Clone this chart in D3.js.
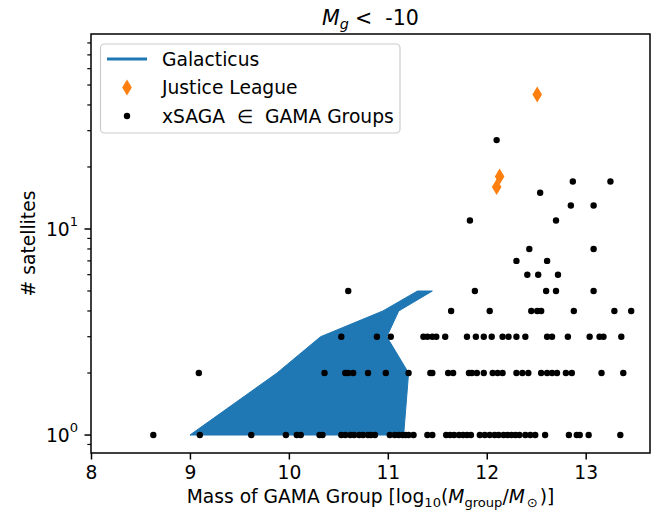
<!DOCTYPE html>
<html>
<head>
<meta charset="utf-8">
<script src="https://cdn.jsdelivr.net/npm/d3@7"></script>
<style>
    body { margin: 0; background: #fff; }
    svg { font-family: "DejaVu Sans", sans-serif; }
</style>
</head>
<body>
<svg id="chart" width="660" height="510"></svg>
<script>
// Galacticus band (fill_betweenx): for each satellite count, min/max group mass
const galN = [1, 2, 3, 4, 5]
const galLo = [9.0, 9.88, 10.32, 10.95, 11.3]
const galHi = [11.16, 11.21, 10.99, 11.11, 11.45]

// Justice League
const jlMass = [12.51, 12.13, 12.10]
const jlN = [45, 18, 16]

// xSAGA in GAMA groups, grouped by number of satellites
const xsagaN = [1, 2, 3, 4, 5, 6, 7, 8, 11, 13, 15, 17, 27]
const xsagaMass = [
    [8.63, 9.10, 9.62, 9.97, 10.08, 10.12, 10.31, 10.34, 10.53, 10.57, 10.62, 10.66, 10.71, 10.75,
     10.80, 10.83, 10.87, 11.02, 11.07, 11.11, 11.15, 11.18, 11.21, 11.26, 11.40, 11.45, 11.59,
     11.63, 11.67, 11.72, 11.76, 11.80, 11.84, 11.93, 11.98, 12.03, 12.08, 12.12, 12.17, 12.21,
     12.25, 12.29, 12.33, 12.39, 12.44, 12.49, 12.59, 12.83, 12.91, 12.94, 13.03, 13.35],
    [9.09, 10.36, 10.57, 10.60, 10.65, 10.80, 10.98, 11.21, 11.43, 11.45, 11.61, 11.66, 11.82,
     11.85, 11.90, 11.97, 12.06, 12.11, 12.16, 12.30, 12.36, 12.42, 12.55, 12.61, 12.66, 12.71,
     12.80, 12.86, 13.16, 13.38],
    [10.53, 10.89, 11.03, 11.36, 11.40, 11.45, 11.49, 11.58, 11.80, 11.89, 11.97, 12.05, 12.16,
     12.22, 12.30, 12.39, 12.61, 12.66, 12.82, 13.04, 13.14, 13.18, 13.36],
    [11.64, 12.03, 12.45, 12.51, 12.55, 12.88, 13.29, 13.46],
    [10.60, 11.88, 12.60, 12.70, 13.08],
    [12.41, 12.52, 12.72],
    [12.30, 12.61],
    [12.43, 13.08],
    [11.83, 12.70],
    [12.85, 13.08],
    [12.54],
    [12.87, 13.25],
    [12.10]
]

const xTicks = [8, 9, 10, 11, 12, 13]
const yMajor = [1, 10]
const yMinor = [0.9, 2, 3, 4, 5, 6, 7, 8, 9, 20, 30, 40, 50, 60, 70, 80]

const blue = "#1f77b4"
const orange = "#ff7f0e"
const fs = 18.7

const svg = d3.select("#chart")
const pLeft = 91, pRight = 650, pTop = 34, pBottom = 453

const x = d3.scaleLinear().domain([8, 13.65]).range([pLeft, pRight])
const y = d3.scaleLog().domain([0.818, 88.4]).range([pBottom, pTop])

svg.append("defs").append("clipPath").attr("id", "clip")
    .append("rect")
    .attr("x", pLeft).attr("y", pTop)
    .attr("width", pRight - pLeft).attr("height", pBottom - pTop)

const plot = svg.append("g").attr("clip-path", "url(#clip)")

// Galacticus band
const galData = galN.map((n, i) => ({n: n, lo: galLo[i], hi: galHi[i]}))
const area = d3.area()
    .y(d => y(d.n))
    .x0(d => x(d.lo))
    .x1(d => x(d.hi))
plot.append("path")
    .datum(galData)
    .attr("d", area)
    .attr("fill", blue)
    .attr("stroke", blue)
    .attr("stroke-width", 1)

// thin diamond marker
const diamond = (w, h) => `M0,${-h / 2}L${w / 2},0L0,${h / 2}L${-w / 2},0Z`

// Justice League
plot.selectAll(".jl")
    .data(jlMass.map((m, i) => ({m: m, n: jlN[i]})))
    .join("path")
    .attr("class", "jl")
    .attr("transform", d => `translate(${x(d.m)},${y(d.n)})`)
    .attr("d", diamond(9.6, 16))
    .attr("fill", orange)

// xSAGA points
let pts = []
xsagaN.forEach((n, i) => {
    xsagaMass[i].forEach(m => pts.push({m: m, n: n}))
})
plot.selectAll(".pt")
    .data(pts)
    .join("circle")
    .attr("class", "pt")
    .attr("cx", d => x(d.m))
    .attr("cy", d => y(d.n))
    .attr("r", 3.2)
    .attr("fill", "black")

// x axis
const xAxis = svg.append("g")
    .attr("transform", `translate(0,${pBottom})`)
    .call(d3.axisBottom(x).tickValues(xTicks).tickFormat(d3.format("d")).tickSize(6.5).tickPadding(6))
xAxis.select(".domain").remove()
xAxis.selectAll(".tick line").attr("stroke-width", 1.5)
xAxis.selectAll("text")
    .attr("font-size", fs)
    .attr("font-family", "DejaVu Sans")
    .attr("fill", "black")

// y axis: minor + major ticks
const yAxis = svg.append("g").attr("transform", `translate(${pLeft},0)`)
yAxis.selectAll(".minor")
    .data(yMinor)
    .join("line")
    .attr("x1", -3.7).attr("x2", 0)
    .attr("y1", d => y(d)).attr("y2", d => y(d))
    .attr("stroke", "black").attr("stroke-width", 1.2)
yAxis.selectAll(".major")
    .data(yMajor)
    .join("line")
    .attr("x1", -6.5).attr("x2", 0)
    .attr("y1", d => y(d)).attr("y2", d => y(d))
    .attr("stroke", "black").attr("stroke-width", 1.5)
const yLab = yAxis.selectAll(".ylab")
    .data(yMajor)
    .join("text")
    .attr("x", -13)
    .attr("y", d => y(d))
    .attr("dy", "0.38em")
    .attr("text-anchor", "end")
    .attr("font-size", fs)
yLab.append("tspan").text("10")
yLab.append("tspan")
    .attr("font-size", fs * 0.7)
    .attr("dy", "-0.75em")
    .text(d => Math.round(Math.log10(d)))

// frame
svg.append("rect")
    .attr("x", pLeft).attr("y", pTop)
    .attr("width", pRight - pLeft).attr("height", pBottom - pTop)
    .attr("fill", "none")
    .attr("stroke", "black")
    .attr("stroke-width", 1.5)

// title
const tfs = fs * 1.1
const title = svg.append("text")
    .attr("x", (pLeft + pRight) / 2)
    .attr("y", 25)
    .attr("text-anchor", "middle")
    .attr("font-size", tfs)
    .attr("xml:space", "preserve")
title.append("tspan").attr("font-style", "italic").text("M")
title.append("tspan").attr("font-style", "italic").attr("font-size", tfs * 0.7).attr("dy", 4).text("g")
title.append("tspan").attr("dy", -4).attr("dx", 6).text("<  -10")

// x label
const xl = svg.append("text")
    .attr("x", (pLeft + pRight) / 2)
    .attr("y", 503)
    .attr("text-anchor", "middle")
    .attr("font-size", fs)
xl.append("tspan").text("Mass of GAMA Group [log")
xl.append("tspan").attr("font-size", fs * 0.7).attr("dy", 4).text("10")
xl.append("tspan").attr("dy", -4).text("(")
xl.append("tspan").attr("font-style", "italic").text("M")
xl.append("tspan").attr("font-size", fs * 0.7).attr("dy", 4).text("group")
xl.append("tspan").attr("dy", -4).text("/")
xl.append("tspan").attr("font-style", "italic").text("M")
xl.append("tspan").attr("font-size", fs * 0.7).attr("dy", 4).attr("dx", 2).text("\u2299")
xl.append("tspan").attr("dy", -4).attr("dx", 2).text(")]")

// y label
svg.append("text")
    .attr("transform", `translate(35,${(pTop + pBottom) / 2}) rotate(-90)`)
    .attr("text-anchor", "middle")
    .attr("font-size", fs)
    .text("# satellites")

// legend
const lg = svg.append("g")
lg.append("rect")
    .attr("x", 100.5).attr("y", 44)
    .attr("width", 299.5).attr("height", 89)
    .attr("rx", 4)
    .attr("fill", "white").attr("fill-opacity", 0.8)
    .attr("stroke", "#cccccc").attr("stroke-width", 1.2)
const rows = [59, 87.5, 116]
lg.append("line")
    .attr("x1", 107).attr("x2", 147)
    .attr("y1", rows[0]).attr("y2", rows[0])
    .attr("stroke", blue).attr("stroke-width", 2.8)
lg.append("path")
    .attr("transform", `translate(127,${rows[1]})`)
    .attr("d", diamond(9.6, 16))
    .attr("fill", orange)
lg.append("circle")
    .attr("cx", 127).attr("cy", rows[2]).attr("r", 3.2)
    .attr("fill", "black")
const legendLabels = ["Galacticus", "Justice League", "xSAGA  \u2208  GAMA Groups"]
lg.selectAll(".lt")
    .data(legendLabels)
    .join("text")
    .attr("class", "lt")
    .attr("x", 162)
    .attr("y", (d, i) => rows[i])
    .attr("dy", "0.36em")
    .attr("font-size", fs)
    .attr("xml:space", "preserve")
    .text(d => d)
</script>
</body>
</html>
